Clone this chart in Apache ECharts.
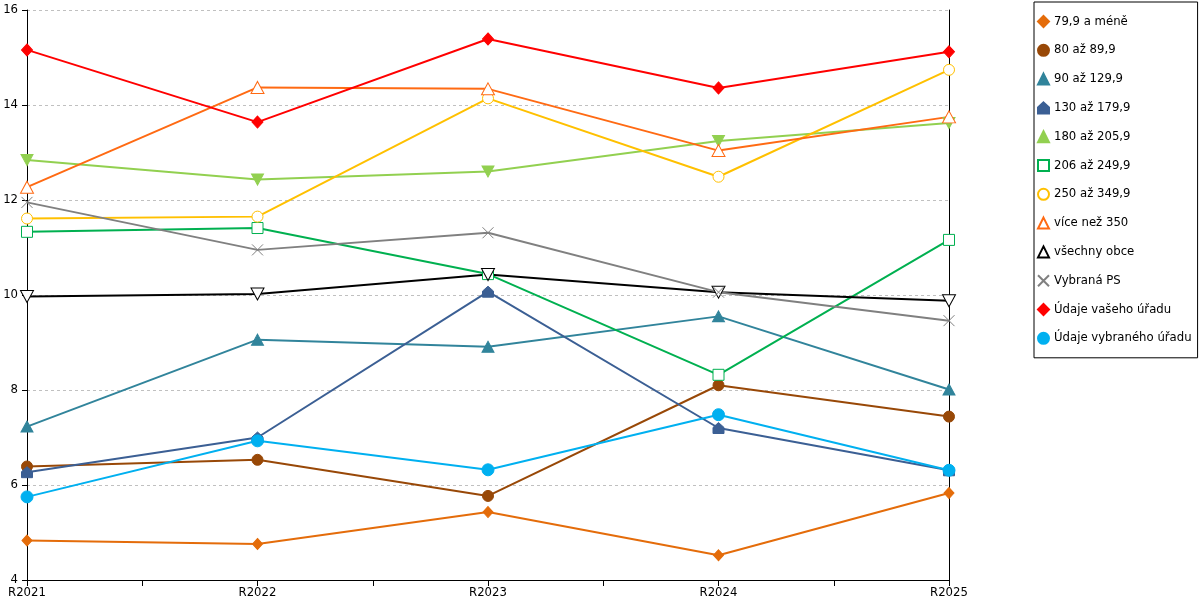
<!DOCTYPE html>
<html>
<head>
<meta charset="utf-8">
<title>chart</title>
<script src="https://cdn.jsdelivr.net/npm/echarts@6/dist/echarts.min.js"></script>
<style>
	html, body { margin: 0; padding: 0; background: #fff; }
	#chart { width: 1200px; height: 600px; }
</style>
</head>
<body>
<div id="chart"></div>
<script>
var years = ['R2021', 'R2022', 'R2023', 'R2024', 'R2025'];

var s79 = [4.83, 4.76, 5.43, 4.52, 5.83];
var s80 = [6.39, 6.53, 5.77, 8.10, 7.44];
var s90 = [7.23, 9.06, 8.91, 9.55, 8.01];
var s130 = [6.27, 7.00, 10.07, 7.20, 6.31];
var s180 = [12.84, 12.43, 12.60, 13.24, 13.62];
var s206 = [11.33, 11.41, 10.44, 8.32, 11.16];
var s250 = [11.61, 11.65, 14.14, 12.49, 14.74];
var s350 = [12.27, 14.37, 14.34, 13.04, 13.75];
var sAll = [9.97, 10.02, 10.43, 10.06, 9.88];
var sPS = [11.95, 10.95, 11.31, 10.06, 9.46];
var sVas = [15.16, 13.64, 15.39, 14.36, 15.12];
var sVybr = [5.75, 6.93, 6.32, 7.48, 6.31];

var yTicks = [4, 6, 8, 10, 12, 14, 16];

(function() {
	var chart = echarts.init(document.getElementById('chart'));
	var font = 'DejaVu Sans';
	var fsize = 11.7;

	var HOUSE = 'path://M5,0L10,4.5L10,10L0,10L0,4.5Z';
	var CROSS = 'path://M0,0L10,10M10,0L0,10';

	// name, data, colour, symbol, size, filled?, rotate
	var defs = [
		['79,9 a méně', s79, '#e46c0a', 'diamond', [10, 11], true, 0],
		['80 až 89,9', s80, '#984807', 'circle', 11, true, 0],
		['90 až 129,9', s90, '#31849b', 'triangle', [12, 11], true, 0],
		['130 až 179,9', s130, '#3b5f94', HOUSE, [11, 11], true, 0],
		['180 až 205,9', s180, '#92d050', 'triangle', [12, 11], true, 180],
		['206 až 249,9', s206, '#00b050', 'rect', [11, 11], false, 0],
		['250 až 349,9', s250, '#ffc000', 'circle', 11, false, 0],
		['více než 350', s350, '#ff6a13', 'triangle', [13, 12], false, 0],
		['všechny obce', sAll, '#000000', 'triangle', [13, 12], false, 180],
		['Vybraná PS', sPS, '#808080', CROSS, [11, 11], false, 0],
		['Údaje vašeho úřadu', sVas, '#ff0000', 'diamond', [11, 12], true, 0],
		['Údaje vybraného úřadu', sVybr, '#00b0f0', 'circle', 12, true, 0]
	];

	var series = [];
	var legendData = [];
	for (var i = 0; i < defs.length; i++) {
		var d = defs[i];
		series.push({
			name: d[0],
			type: 'line',
			data: d[1],
			symbol: d[3],
			symbolSize: d[4],
			symbolRotate: d[6],
			showAllSymbol: true,
			animation: false,
			lineStyle: { color: d[2], width: 2 },
			itemStyle: {
				color: d[5] ? d[2] : '#fff',
				borderColor: d[2],
				borderWidth: 1
			},
			emphasis: { disabled: true }
		});
		legendData.push({ name: d[0], icon: d[3] });
	}

	var option = {
		backgroundColor: '#fff',
		animation: false,
		grid: {
			left: 27,
			right: 251,
			top: 10,
			bottom: 20,
			containLabel: false
		},
		legend: {
			orient: 'vertical',
			left: 1034,
			top: 2,
			padding: [13, 6, 13, 3],
			itemWidth: 11,
			itemHeight: 11,
			itemGap: 15.8,
			borderColor: '#000',
			borderWidth: 1,
			borderRadius: 0,
			textStyle: { fontFamily: font, fontSize: fsize, color: '#000' },
			data: legendData
		},
		xAxis: [{
			type: 'category',
			data: years,
			boundaryGap: false,
			axisLine: { lineStyle: { color: '#000', width: 1 } },
			axisTick: { show: false },
			axisLabel: { fontFamily: font, fontSize: fsize, color: '#000', margin: 7 },
			splitLine: { show: false }
		}, {
			// half-step ticks under the category axis
			type: 'value',
			position: 'bottom',
			min: 0,
			max: years.length - 1,
			interval: 0.5,
			axisLine: { show: false },
			axisTick: { show: true, length: 6, lineStyle: { color: '#000' } },
			axisLabel: { show: false },
			splitLine: { show: false }
		}],
		yAxis: [{
			type: 'value',
			min: yTicks[0],
			max: yTicks[yTicks.length - 1],
			interval: 2,
			axisLine: { show: true, lineStyle: { color: '#000', width: 1 } },
			axisTick: { show: true, length: 5, lineStyle: { color: '#000' } },
			axisLabel: { fontFamily: font, fontSize: fsize, color: '#000', margin: 9 },
			splitLine: { show: true, lineStyle: { color: '#c0c0c0', type: [3, 3], width: 1 } }
		}, {
			type: 'value',
			position: 'right',
			min: yTicks[0],
			max: yTicks[yTicks.length - 1],
			interval: 2,
			axisLine: { show: true, lineStyle: { color: '#000', width: 1 } },
			axisTick: { show: false },
			axisLabel: { show: false },
			splitLine: { show: false }
		}],
		series: series
	};

	chart.setOption(option);
}());
</script>
</body>
</html>
